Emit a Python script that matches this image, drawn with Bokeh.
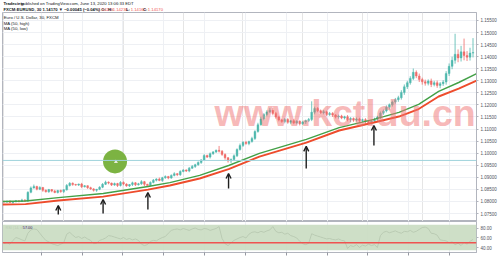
from bokeh.plotting import figure
from bokeh.layouts import column
from bokeh.models import (Range1d, FixedTicker, PrintfTickFormatter, Span, BoxAnnotation,
                          Arrow, OpenHead, Label, ColumnDataSource, Grid)
from bokeh.embed import file_html
from bokeh.resources import INLINE
from bokeh.core.properties import value

# ---------------- data ----------------
first_open = 1.0800
closes = [
    1.0798, 1.0801, 1.0796, 1.0799, 1.0803, 1.0800, 1.0806, 1.0802,
    1.0838, 1.0856,
    1.0862, 1.0851, 1.0858, 1.0846, 1.0840, 1.0849, 1.0843, 1.0837, 1.0845, 1.0841, 1.0848,
    1.0866, 1.0875, 1.0870,
    1.0868, 1.0872, 1.0861, 1.0865, 1.0857, 1.0852, 1.0846, 1.0850,
    1.0859, 1.0871, 1.0880, 1.0876,
    1.0868, 1.0874, 1.0866, 1.0879, 1.0872, 1.0864, 1.0870, 1.0877, 1.0869, 1.0873,
    1.0882, 1.0871, 1.0866, 1.0879, 1.0888, 1.0893, 1.0887, 1.0898, 1.0903,
    1.0897, 1.0908, 1.0915, 1.0911, 1.0924, 1.0930,
    1.0926, 1.0938, 1.0945, 1.0952, 1.0961, 1.0972,
    1.0990, 1.0984, 1.0998, 1.1005, 1.1012,
    1.1008,
    1.0995, 1.0981, 1.0968, 1.0974, 1.0989,
    1.1015, 1.1032, 1.1045, 1.1040, 1.1048,
    1.1061, 1.1090, 1.1118, 1.1142, 1.1160, 1.1171,
    1.1178, 1.1165, 1.1150,
    1.1138, 1.1131, 1.1140, 1.1128, 1.1134, 1.1125, 1.1132, 1.1122, 1.1129, 1.1135, 1.1140,
    1.1170,
    1.1185, 1.1176, 1.1168, 1.1172, 1.1160, 1.1165, 1.1158, 1.1150, 1.1154,
    1.1146, 1.1151, 1.1140, 1.1144, 1.1137, 1.1142, 1.1135, 1.1139, 1.1131, 1.1127, 1.1133,
    1.1141, 1.1150, 1.1166, 1.1175, 1.1190, 1.1201, 1.1212, 1.1222,
    1.1230, 1.1252, 1.1275,
    1.1292, 1.1310, 1.1335, 1.1320,
    1.1305, 1.1296, 1.1290, 1.1299, 1.1285, 1.1292, 1.1281, 1.1288, 1.1295,
    1.1330, 1.1360, 1.1385,
    1.1410, 1.1395, 1.1420, 1.1405, 1.1398, 1.1415, 1.1417,
]
up_wick_pips = [
    3, 2, 4, 2, 3, 2, 5, 3, 4, 6,
    8, 3, 5, 2, 4, 3, 2, 5, 3, 4,
    3, 6, 5, 4, 3, 2, 5, 3, 2, 4,
    3, 2, 4, 5, 6, 3, 2, 4, 3, 5,
    4, 3, 2, 5, 3, 4, 6, 3, 2, 4,
    5, 3, 6, 4, 5, 3, 4, 6, 3, 5,
    4, 3, 5, 6, 4, 5, 3, 6, 4, 5,
    4, 3, 18, 5, 4, 3, 4, 6, 5, 8,
    5, 6, 4, 7, 5, 8, 9, 6, 7, 10,
    9, 6, 5, 4, 6, 5, 4, 7, 5, 4,
    5, 4, 6, 45, 8, 6, 5, 7, 4, 6,
    5, 4, 6, 5, 4, 7, 5, 4, 6, 5,
    4, 6, 5, 4, 6, 5, 7, 6, 8, 5,
    6, 7, 8, 9, 10, 8, 9, 16, 8, 10,
    8, 9, 7, 10, 8, 9, 7, 8, 10, 12,
    15, 85, 20, 25, 55, 18, 22, 60,
]
down_wick_pips = [
    3, 4, 2, 5, 3, 4, 2, 3, 5, 4,
    3, 5, 4, 6, 3, 4, 5, 3, 4, 5,
    6, 3, 4, 5, 3, 4, 6, 3, 5, 4,
    5, 6, 3, 4, 3, 5, 4, 3, 6, 4,
    5, 3, 4, 6, 5, 3, 4, 7, 5, 3,
    4, 5, 3, 6, 4, 5, 3, 4, 6, 5,
    3, 4, 5, 3, 6, 4, 5, 3, 4, 6,
    5, 4, 5, 6, 8, 7, 9, 6, 5, 4,
    6, 5, 7, 4, 6, 5, 4, 6, 7, 5,
    8, 7, 6, 5, 7, 6, 8, 5, 6, 7,
    5, 8, 6, 7, 9, 6, 5, 7, 6, 5,
    8, 6, 7, 5, 6, 8, 12, 7, 6, 8,
    7, 9, 6, 8, 7, 6, 8, 7, 6, 9,
    8, 7, 9, 8, 10, 9, 8, 7, 9, 10,
    12, 10, 9, 11, 8, 10, 12, 9, 11, 10,
    12, 14, 18, 15, 20, 16, 14, 18,
]
ma_idx = [-0.5, 7.2, 18.2, 33.2, 48.2, 55.5, 65.5, 75.2, 85.5, 101.2, 112.2, 123.8, 132.2, 138.8, 145.5, 152.2, 158.2]
ma_high = [1.0800, 1.0802, 1.0816, 1.0833, 1.0862, 1.0878, 1.0908, 1.0949, 1.0999, 1.1057, 1.1106, 1.1140, 1.1169, 1.1202, 1.1256, 1.1293, 1.1330]
ma_low = [1.0787, 1.0789, 1.0804, 1.0820, 1.0849, 1.0866, 1.0895, 1.0934, 1.0986, 1.1044, 1.1094, 1.1127, 1.1152, 1.1183, 1.1235, 1.1268, 1.1301]
rsi_values = [
    48, 50, 47, 55, 61, 59, 56, 54, 70, 77, 79, 78, 70, 62,
    55, 52, 48, 46, 44, 47, 50, 68, 72, 66,
    61, 63, 59, 62, 58, 55, 48, 49, 55, 57, 60, 65, 64, 62,
    60, 58, 61, 57, 59, 56, 58, 55, 47, 44, 46, 53, 55, 54, 58, 61, 63,
    70, 76, 78, 79, 77, 80, 78, 76, 79, 81, 78, 77, 80, 79, 76, 78, 80,
    84, 59, 48, 44, 50, 55, 58, 61, 63, 60,
    68, 72, 73, 71, 74, 72, 75, 77, 84, 74, 71, 72, 68, 70, 65, 63, 60,
    53, 48, 46, 49, 69, 66, 64, 62, 60, 58, 59, 57, 56, 58, 55, 54,
    38, 44, 42, 46, 40, 45, 43, 47, 44, 46, 40, 65,
    72, 74, 71, 73, 75, 72, 70, 74, 73, 76, 72, 74, 78,
    82, 83, 80, 70, 69, 66, 56, 55,
    54, 50, 52, 46, 49, 44, 51, 47, 53, 57,
]
price_ticks = [1.075, 1.080, 1.085, 1.090, 1.095, 1.100, 1.105, 1.110, 1.115,
               1.120, 1.125, 1.130, 1.135, 1.140, 1.145, 1.150, 1.155]
rsi_ticks = [40, 60, 80]
day_ticks = [12.5, 26.17, 39.83, 53.5, 67.17, 80.83, 94.5, 108.17, 121.83, 135.5, 149.17]
hline_level = 1.0970
rsi_level = 50
rsi_band = (34, 88)
arrow_idx = [18.17, 33.17, 48.17, 75.17, 101.17, 123.83]
arrow_tail = [1.0746, 1.0750, 1.0767, 1.0854, 1.0937, 1.1032]
arrow_head = [1.0783, 1.0808, 1.0837, 1.0916, 1.1028, 1.1115]
marker_idx, marker_price = 37.17, 1.0966
last_price = closes[-1]

UP, DOWN = "#4fb8ad", "#ef6b68"
FONT = "Liberation Sans"
TXT = "#131722"

opens = [first_open] + closes[:-1]
tops = [max(o, c) for o, c in zip(opens, closes)]
bots = [min(o, c) for o, c in zip(opens, closes)]
src = ColumnDataSource(dict(
    x=list(range(len(closes))), top=tops, bottom=bots,
    high=[t + u * 0.0001 for t, u in zip(tops, up_wick_pips)],
    low=[b - d * 0.0001 for b, d in zip(bots, down_wick_pips)],
    color=[UP if c >= o else DOWN for o, c in zip(opens, closes)],
))

x_range = Range1d(-0.5, 158.1667)

# ---------------- header ----------------
h = figure(width=499, height=12, x_range=Range1d(0, 499), y_range=Range1d(12, 0),
           output_backend="svg", toolbar_location=None, min_border=0,
           x_axis_location=None, y_axis_location=None, outline_line_color=None)
h.xgrid.visible = False
h.ygrid.visible = False
h.text(x=[1], y=[3.2], text=["Tradeciety"], text_font=value(FONT), text_font_size="4.2px",
       text_font_style="bold", text_color=TXT, text_baseline="middle")
h.text(x=[19.5], y=[3.2], text=["published on TradingView.com, June 13, 2020 13:06:33 EDT"],
       text_font=value(FONT), text_font_size="4.2px", text_color=TXT, text_baseline="middle")
h.text(x=[1], y=[9.2], text=["FXCM:EURUSD, 30  1.14170 \u25bc \u22120.00045 (\u22120.04%)  O:"],
       text_font=value(FONT), text_font_size="4.2px", text_font_style="bold",
       text_color=TXT, text_baseline="middle")
for xx, lab, val in [(100, "", "1.14215"), (115, "H:", "1.14230"), (134, "L:", "1.14160"), (152, "C:", "1.14170")]:
    if lab:
        h.text(x=[xx - 4], y=[9.2], text=[lab], text_font=value(FONT), text_font_size="4.2px",
               text_font_style="bold", text_color=TXT, text_baseline="middle")
    h.text(x=[xx + 1], y=[9.2], text=[val], text_font=value(FONT), text_font_size="4.2px",
           text_color="#ef5350", text_baseline="middle")

# ---------------- main price pane ----------------
p = figure(width=499, height=209, x_range=x_range, y_range=Range1d(1.071684, 1.158315),
           output_backend="svg", toolbar_location=None, min_border_left=2, min_border_right=21,
           min_border_top=0, min_border_bottom=0, x_axis_location=None, y_axis_location="right",
           outline_line_color="#b2b5be")
p.ygrid.ticker = FixedTicker(ticks=price_ticks)
p.ygrid.grid_line_color = "#eef0f4"
p.add_layout(Grid(dimension=0, ticker=FixedTicker(ticks=day_ticks), grid_line_color="#eef0f4"))
ax = p.yaxis[0]
ax.ticker = FixedTicker(ticks=price_ticks)
ax.formatter = PrintfTickFormatter(format="%.5f")
ax.major_label_text_font_size = "4.5px"
ax.major_label_text_font = FONT
ax.major_label_text_color = "#50535e"
ax.major_tick_out = 2
ax.major_tick_in = 0
ax.minor_tick_out = 0
ax.minor_tick_in = 0
ax.major_label_standoff = 2
ax.axis_line_color = "#b2b5be"
ax.major_tick_line_color = "#b2b5be"

p.add_layout(Span(location=hline_level, dimension="width", line_color="#9fd3dc", line_width=1))

p.segment(x0="x", y0="low", x1="x", y1="high", color="color", line_width=0.8, source=src)
p.vbar(x="x", width=0.62, top="top", bottom="bottom", fill_color="color", line_color="color",
       line_width=0.4, source=src)

p.line(ma_idx, ma_high, line_color="#43a047", line_width=1.4)
p.line(ma_idx, ma_low, line_color="#ee4c2c", line_width=1.9)

p.text(x=[70.5], y=[1.1079], text=["www.kctldu.cn"], text_font=value(FONT), text_font_size="37.5px",
       text_font_style="bold", text_color="#ef7373", text_alpha=0.5)

arr_src = ColumnDataSource(dict(x=arrow_idx, y0=arrow_tail, y1=arrow_head))
p.add_layout(Arrow(end=OpenHead(size=5, line_width=1.4, line_color="#1e1e1e"),
                   x_start="x", y_start="y0", x_end="x", y_end="y1", source=arr_src,
                   line_width=1.4, line_color="#1e1e1e"))

p.scatter([marker_idx], [marker_price], size=24, fill_color="#7cb342", line_color=None)
p.scatter([marker_idx + 0.3], [marker_price - 0.0002], size=4, marker="triangle",
          fill_color="#e6ecd8", line_color=None)

for yy, txt in [(1.15624, "Euro / U.S. Dollar, 30, FXCM"), (1.15376, "MA (50, high)"), (1.15148, "MA (50, low)")]:
    p.text(x=[-0.1], y=[yy], text=[txt], text_font=value(FONT), text_font_size="4.3px",
           text_color=TXT, text_baseline="middle")

p.add_layout(Label(x=158.8, y=last_price, text="%.5f" % last_price, text_font=FONT,
                   text_font_size="4.5px", text_color="white", text_baseline="middle",
                   background_fill_color="#ef5350"))

# ---------------- RSI pane ----------------
r = figure(width=499, height=35, x_range=x_range, y_range=Range1d(29.5, 94.7),
           output_backend="svg", toolbar_location=None, min_border_left=2, min_border_right=21,
           min_border_top=0, min_border_bottom=4, y_axis_location="right",
           outline_line_color="#b2b5be")
r.ygrid.visible = False
r.xgrid.ticker = FixedTicker(ticks=day_ticks)
r.xgrid.grid_line_color = "#eef0f4"
r.add_layout(BoxAnnotation(bottom=rsi_band[0], top=rsi_band[1], fill_color="#c9dcc1",
                           fill_alpha=0.9, line_color=None))
r.add_layout(Span(location=rsi_level, dimension="width", line_color="#ef5350", line_width=1.3))
r.line(list(range(len(rsi_values))), rsi_values, line_color="#1a1a1a", line_width=0.9)
r.text(x=[0.5], y=[82], text=["RSI (14, close)"], text_font=value(FONT), text_font_size="3.8px",
       text_color=TXT, text_baseline="middle")
r.add_layout(Label(x=6.3, y=82, text="%.2f" % rsi_values[-1], text_font=FONT,
                   text_font_size="3.8px", text_color="#333", text_baseline="middle",
                   background_fill_color="#d0d3d8"))
ay = r.yaxis[0]
ay.ticker = FixedTicker(ticks=rsi_ticks)
ay.formatter = PrintfTickFormatter(format="%.2f")
ay.major_label_text_font_size = "4.5px"
ay.major_label_text_font = FONT
ay.major_label_text_color = "#50535e"
ay.major_tick_out = 2
ay.major_tick_in = 0
ay.minor_tick_out = 0
ay.minor_tick_in = 0
ay.major_label_standoff = 2
ay.axis_line_color = "#b2b5be"
ay.major_tick_line_color = "#b2b5be"
axx = r.xaxis[0]
axx.ticker = FixedTicker(ticks=day_ticks)
axx.major_label_overrides = {t: "" for t in day_ticks}
axx.major_label_text_font_size = "1px"
axx.major_label_standoff = 0
axx.major_tick_out = 3
axx.major_tick_in = 0
axx.minor_tick_out = 0
axx.minor_tick_in = 0
axx.axis_line_color = "#b2b5be"
axx.major_tick_line_color = "#9598a1"

layout = column(h, p, r, spacing=0)
open("out.html", "w").write(file_html(layout, INLINE))
